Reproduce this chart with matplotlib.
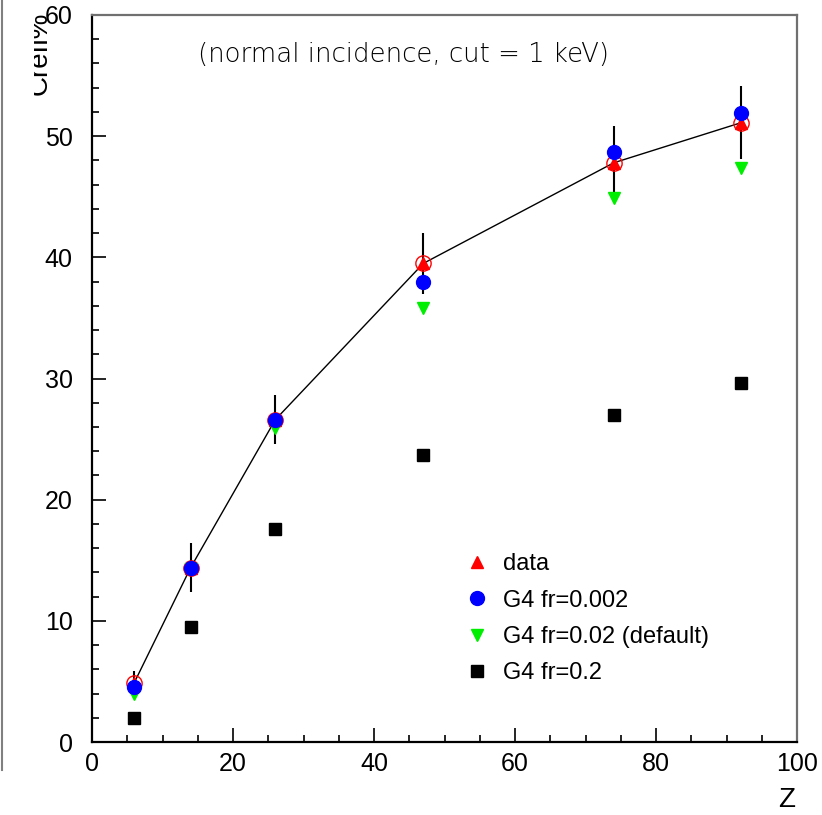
import matplotlib
matplotlib.use("Agg")
import matplotlib.pyplot as plt
from matplotlib.lines import Line2D
from matplotlib.transforms import Bbox, TransformedBbox
import numpy as np

plt.rcParams['font.family'] = ['Liberation Sans', 'DejaVu Sans']

# backscattering coefficient vs Z
z = [6, 14, 26, 47, 74, 92]
data = [4.9, 14.4, 26.6, 39.5, 47.8, 51.1]
data_err = [1.0, 2.0, 2.0, 2.5, 3.0, 3.0]
g4_0002 = [4.5, 14.4, 26.6, 38.0, 48.7, 51.9]
g4_002 = [4.0, 14.3, 25.9, 35.8, 44.9, 47.4]
g4_02 = [2.0, 9.5, 17.6, 23.7, 27.0, 29.6]

W, H = 822, 815
fig = plt.figure(figsize=(W / 100, H / 100), dpi=100)
ax = fig.add_axes([92 / W, (H - 742) / H, (797 - 92) / W, (742 - 15) / H])

ax.plot(z, data, color='black', lw=1.0, zorder=2)
ax.errorbar(z, data, yerr=data_err, fmt='none', ecolor='black', elinewidth=1.5, capsize=0, zorder=2)
ax.plot(z, data, '^', color='red', ms=9, mec='red', zorder=3, label='data')
ax.plot(z, data, 'o', mfc='none', mec='red', ms=11, mew=1.0, zorder=3)
ax.plot(z, g4_002, 'v', color='#00ee00', ms=9, zorder=4, label='G4 fr=0.02 (default)')
ax.plot(z, g4_0002, 'o', color='blue', ms=10, zorder=5, label='G4 fr=0.002')
ax.plot(z, g4_02, 's', color='black', ms=8.5, zorder=4, label='G4 fr=0.2')

ax.set_xlim(0, 100)
ax.set_ylim(0, 60)
ax.set_xticks(np.arange(0, 101, 20))
ax.set_xticks(np.arange(0, 101, 5), minor=True)
ax.set_yticks(np.arange(0, 61, 10))
ax.set_yticks(np.arange(0, 61, 2), minor=True)
ax.tick_params(which='both', direction='in', top=False, right=False, labelsize=18, width=1.2)
ax.tick_params(axis='x', which='major', length=10, pad=7)
ax.tick_params(axis='y', which='major', length=10, pad=14)
ax.tick_params(which='minor', length=5)

for s in ['left', 'bottom']:
    ax.spines[s].set_color('black')
    ax.spines[s].set_linewidth(1.6)
for s in ['top', 'right']:
    ax.spines[s].set_color('#707070')
    ax.spines[s].set_linewidth(1.6)

h, l = ax.get_legend_handles_labels()
order = [0, 2, 1, 3]
ax.legend([h[i] for i in order], [l[i] for i in order], frameon=False, fontsize=17,
          loc='upper left', bbox_to_anchor=(456 / W, (H - 544) / H), bbox_transform=fig.transFigure,
          handlelength=1.0, handletextpad=0.6, labelspacing=0.6, borderaxespad=0)

fig.text(403 / W, 1 - 55 / H, '(normal incidence, cut = 1 keV)', ha='center', va='center',
         fontsize=18.7, family=['DejaVu Sans'], fontweight=200, color='black')

fig.text(787 / W, 1 - 800 / H, 'Z', ha='center', va='center', fontsize=20)

yl = fig.text(53 / W, 1 - 12 / H, 'Crefl%', rotation=90, ha='right', va='top', fontsize=20)
yl.set_clip_box(TransformedBbox(Bbox([[34 / W, 0], [1, 1]]), fig.transFigure))
yl.set_clip_on(True)

fig.add_artist(Line2D([2 / W, 2 / W], [1, 1 - 770 / H], transform=fig.transFigure,
                      color='#808080', lw=1.5))

fig.savefig('out.png', dpi=100)
